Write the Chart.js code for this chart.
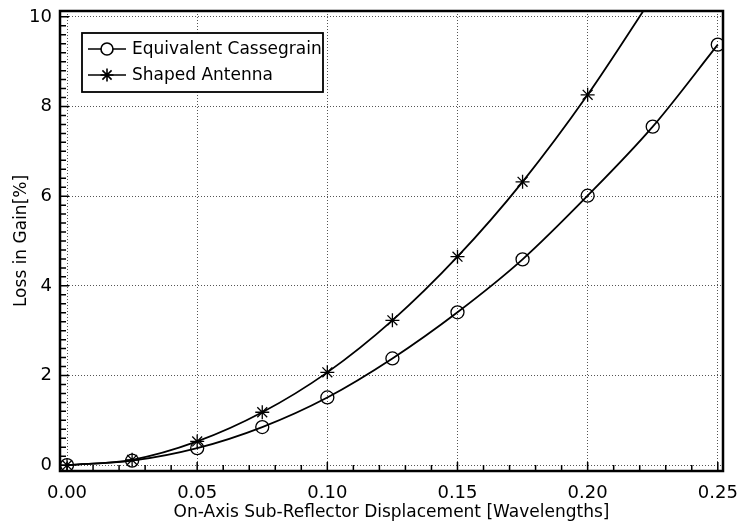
<!DOCTYPE html>
<html>
<head>
<meta charset="utf-8">
<script src="https://cdn.jsdelivr.net/npm/chart.js@4.4.1/dist/chart.umd.min.js"></script>
<style>
  html, body { margin: 0; padding: 0; background: #fff; }
  #wrap { width: 741px; height: 527px; }
</style>
</head>
<body>
<div id="wrap"><canvas id="gainLoss"></canvas></div>
<script>
// displacement in wavelengths
var displacement = [0, 0.025, 0.05, 0.075, 0.1, 0.125, 0.15, 0.175, 0.2, 0.225, 0.25];
var cassegrainLoss = [0, 0.10, 0.38, 0.85, 1.51, 2.38, 3.41, 4.59, 6.01, 7.55, 9.38];
var shapedLoss = [0, 0.12, 0.53, 1.18, 2.07, 3.23, 4.65, 6.32, 8.26, 10.45];
var xTicks = [0, 0.05, 0.10, 0.15, 0.20, 0.25];
var yTicks = [0, 2, 4, 6, 8, 10];
var seriesNames = ['Equivalent Cassegrain', 'Shaped Antenna'];

function toPoints(xs, ys) {
  return ys.map(function (y, i) { return { x: xs[i], y: y }; });
}

var FONT = '"DejaVu Sans", sans-serif';

// frame, inward ticks and boxed legend
var decorations = {
  id: 'decorations',
  afterDraw: function (chart) {
    var ctx = chart.ctx, a = chart.chartArea;
    var xs = chart.scales.x, ys = chart.scales.y;
    ctx.save();
    ctx.strokeStyle = '#000';
    ctx.lineWidth = 1.5;
    ctx.beginPath();
    var v, p, major;
    for (v = 0; v <= 0.2501; v += 0.01) {
      p = xs.getPixelForValue(v);
      major = Math.abs(v / 0.05 - Math.round(v / 0.05)) < 1e-6;
      ctx.moveTo(p, a.bottom);
      ctx.lineTo(p, a.bottom - (major ? 9 : 6));
    }
    for (v = 0; v <= 10.001; v += 0.2) {
      p = ys.getPixelForValue(v);
      major = Math.abs(v / 2 - Math.round(v / 2)) < 1e-6;
      ctx.moveTo(a.left, p);
      ctx.lineTo(a.left + (major ? 9 : 6), p);
    }
    ctx.stroke();

    ctx.lineWidth = 2.5;
    ctx.strokeRect(a.left, a.top, a.right - a.left, a.bottom - a.top);

    // legend
    var bx = 82, by = 33, bw = 241, bh = 59;
    ctx.fillStyle = '#fff';
    ctx.fillRect(bx, by, bw, bh);
    ctx.lineWidth = 1.8;
    ctx.strokeRect(bx, by, bw, bh);
    ctx.font = '17px ' + FONT;
    ctx.textBaseline = 'middle';
    chart.data.datasets.forEach(function (ds, i) {
      var yy = by + 16 + i * 26;
      ctx.strokeStyle = '#000';
      ctx.lineWidth = 1.6;
      ctx.beginPath();
      ctx.moveTo(bx + 6, yy);
      ctx.lineTo(bx + 44, yy);
      ctx.stroke();
      Chart.helpers.drawPoint(ctx, {
        pointStyle: ds.pointStyle, radius: ds.pointRadius - 0.5,
        borderWidth: 1.3, rotation: 0
      }, bx + 25, yy);
      ctx.fillStyle = '#000';
      ctx.fillText(ds.label, bx + 50, yy + 1);
    });
    ctx.restore();
  }
};

var bg = {
  id: 'bg',
  beforeDraw: function (chart) {
    var ctx = chart.ctx;
    ctx.save();
    ctx.fillStyle = '#fff';
    ctx.fillRect(0, 0, chart.width, chart.height);
    ctx.restore();
  }
};

function lineSet(label, pts, style, r) {
  return {
    label: label,
    data: pts,
    borderColor: '#000',
    backgroundColor: 'rgba(0,0,0,0)',
    borderWidth: 1.8,
    pointStyle: style,
    pointRadius: r,
    pointBorderWidth: 1.3,
    pointBorderColor: '#000',
    pointBackgroundColor: 'rgba(0,0,0,0)',
    cubicInterpolationMode: 'monotone',
    fill: false
  };
}

new Chart(document.getElementById('gainLoss'), {
  type: 'line',
  data: {
    datasets: [
      lineSet(seriesNames[0], toPoints(displacement, cassegrainLoss), 'circle', 6.5),
      lineSet(seriesNames[1], toPoints(displacement, shapedLoss), 'star', 7)
    ]
  },
  options: {
    responsive: true,
    maintainAspectRatio: false,
    animation: false,
    layout: { padding: { top: 11, right: 18, left: 0, bottom: 0 } },
    plugins: { legend: { display: false }, tooltip: { enabled: false } },
    scales: {
      x: {
        type: 'linear',
        min: -0.0027,
        max: 0.252,
        afterBuildTicks: function (s) { s.ticks = xTicks.map(function (v) { return { value: v }; }); },
        afterFit: function (s) { s.height = 56; s.paddingLeft = 0; s.paddingRight = 0; },
        grid: { color: '#555', lineWidth: 1, drawTicks: false },
        border: { display: false, dash: [1, 2] },
        ticks: {
          color: '#000', padding: 12, maxRotation: 0,
          font: { family: FONT, size: 18 },
          callback: function (v) { return v.toFixed(2); }
        },
        title: {
          display: true, text: 'On-Axis Sub-Reflector Displacement [Wavelengths]',
          color: '#000', font: { family: FONT, size: 17 }, padding: { top: 0 }
        }
      },
      y: {
        type: 'linear',
        min: -0.13,
        max: 10.13,
        afterBuildTicks: function (s) { s.ticks = yTicks.map(function (v) { return { value: v }; }); },
        afterFit: function (s) { s.width = 60; s.paddingTop = 0; s.paddingBottom = 0; },
        grid: { color: '#555', lineWidth: 1, drawTicks: false },
        border: { display: false, dash: [1, 2] },
        ticks: {
          color: '#000', padding: 8,
          font: { family: FONT, size: 18 },
          callback: function (v) { return String(v); }
        },
        title: {
          display: true, text: 'Loss in Gain[%]',
          color: '#000', font: { family: FONT, size: 17 }, padding: { top: 11, bottom: 0 }
        }
      }
    }
  },
  plugins: [bg, decorations]
});
</script>
</body>
</html>
